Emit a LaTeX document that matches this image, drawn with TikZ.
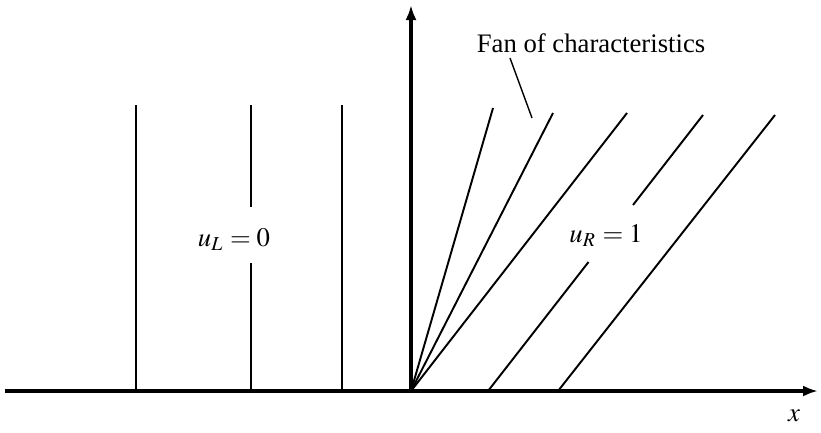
\documentclass[tikz,border=0pt]{standalone}
\usepackage{mathptmx}
\usepackage{fontspec}
\setmainfont{Liberation Serif}
\usetikzlibrary{arrows.meta,positioning}

\begin{document}
\begin{tikzpicture}[font=\fontsize{7.6}{9}\selectfont,>={Latex[length=0.15cm,width=0.11cm]},
    axis/.style={->,line width=0.95pt},
    charline/.style={line width=0.55pt},
    pointer/.style={line width=0.4pt},
    lbl/.style={inner sep=0pt}
]
  % frame of the picture
  \useasboundingbox (-4.11,-0.41) rectangle (4.10,3.91);

  % axes
  \coordinate (O) at (0,0);
  \draw[axis] (-4.06,0) -- (4.07,0);
  \draw[axis] (O) -- (0,3.86);
  \node[lbl] (xlbl) at (3.83,-0.25) {$x$};

  % left state: vertical characteristics
  \draw[charline] (-2.75,0) -- (-2.75,2.86);
  \draw[charline] (-1.60,0) -- (-1.60,1.28);
  \draw[charline] (-1.60,1.84) -- (-1.60,2.86);
  \draw[charline] (-0.69,0) -- (-0.69,2.86);
  \node[lbl] (uL) at (-1.77,1.51) {$u_L = 0$};

  % fan of characteristics from the origin
  \draw[charline] (O) -- (0.82,2.83);
  \draw[charline] (O) -- (1.42,2.78);
  \draw[charline] (O) -- (2.16,2.78);

  % right state: parallel characteristics
  \draw[charline] (0.77,0) -- (1.775,1.29);
  \draw[charline] (2.22,1.86) -- (2.92,2.76);
  \draw[charline] (1.47,0) -- (3.64,2.76);
  \node[lbl] (uR) at (1.95,1.55) {$u_R = 1$};

  % label of the fan
  \node[lbl] (fanlbl) at (1.80,3.48) {Fan of characteristics};
  \coordinate (ptr) at (1.21,2.73);
  \draw[pointer] (0.99,3.33) -- (ptr);
\end{tikzpicture}
\end{document}
